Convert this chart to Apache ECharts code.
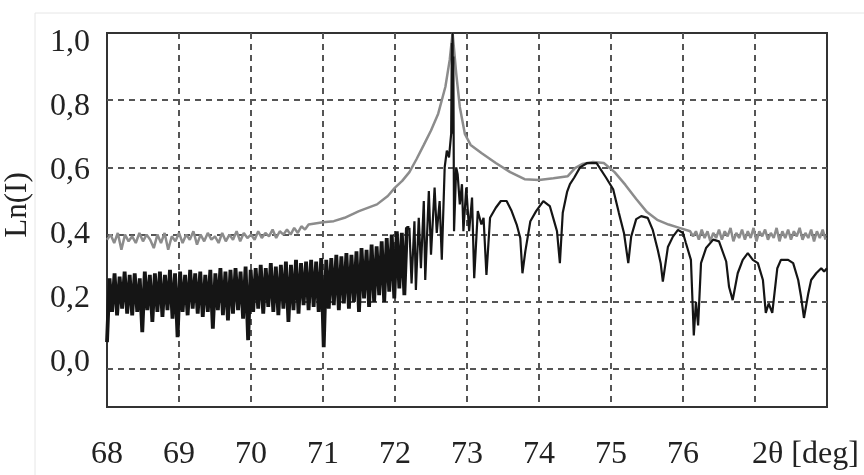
<!DOCTYPE html>
<html>
<head>
<meta charset="utf-8">
<script src="https://cdn.jsdelivr.net/npm/echarts@6/dist/echarts.min.js"></script>
<style>
  html, body { margin: 0; padding: 0; background: #fff; }
  #chart { width: 864px; height: 475px; }
</style>
</head>
<body>
<div id="chart"></div>
<script>
// x tick labels (2θ, deg) and the axis caption
const xTicks = [68, 69, 70, 71, 72, 73, 74, 75, 76];
const xCaptionAt = 77.7;
const xCaption = '2θ [deg]';
const yTicks = [0, 0.2, 0.4, 0.6, 0.8, 1.0];

// grey curve: noisy start (step 0.05 from 68.0)
const grayLeftX0 = 68, grayLeftStep = 0.05;
const grayLeftNoise = [
  0.385, 0.40, 0.375, 0.405, 0.355, 0.40, 0.38, 0.395, 0.375, 0.405,
  0.38, 0.40, 0.385, 0.36, 0.40, 0.375, 0.405, 0.355, 0.395, 0.38,
  0.405, 0.375, 0.40, 0.385, 0.41, 0.37, 0.40, 0.38, 0.405, 0.385,
  0.395, 0.375, 0.405, 0.38, 0.40, 0.385, 0.41, 0.38, 0.405, 0.39,
  0.40, 0.385, 0.41, 0.39, 0.405, 0.395, 0.415, 0.39, 0.41, 0.40,
  0.415, 0.40, 0.42, 0.405, 0.425, 0.415
];
// grey curve: peak and broad hump
const grayMid = [
  [70.8, 0.43], [71.0, 0.437], [71.15, 0.44], [71.3, 0.45], [71.5, 0.47], [71.75, 0.49],
  [71.9, 0.515], [72.0, 0.54], [72.1, 0.56], [72.2, 0.586], [72.3, 0.625], [72.4, 0.667],
  [72.5, 0.71], [72.6, 0.76], [72.7, 0.84], [72.76, 0.92], [72.8, 1.0], [72.85, 0.88],
  [72.9, 0.78], [72.97, 0.70], [73.05, 0.667], [73.2, 0.643], [73.4, 0.613], [73.6, 0.586],
  [73.8, 0.565], [74.0, 0.5625], [74.2, 0.568], [74.4, 0.574], [74.5, 0.598], [74.6, 0.61],
  [74.75, 0.616], [74.9, 0.613], [75.05, 0.586], [75.2, 0.548], [75.35, 0.506], [75.5, 0.467],
  [75.65, 0.443], [75.8, 0.43], [75.95, 0.42], [76.1, 0.41]
];
// grey curve: noisy tail (step 0.04 from 76.14)
const grayRightX0 = 76.14, grayRightStep = 0.04;
const grayRightNoise = [
  0.395, 0.41, 0.385, 0.415, 0.39, 0.41, 0.38, 0.405, 0.39, 0.415,
  0.385, 0.41, 0.395, 0.42, 0.38, 0.405, 0.39, 0.415, 0.385, 0.41,
  0.39, 0.42, 0.38, 0.41, 0.395, 0.415, 0.385, 0.405, 0.39, 0.42,
  0.38, 0.41, 0.39, 0.415, 0.385, 0.41, 0.395, 0.42, 0.385, 0.405,
  0.39, 0.415, 0.38, 0.41, 0.39, 0.415, 0.385
];

// black curve: dense noisy band (step 0.035 from 68.0)
const blackX0 = 68, blackStep = 0.035;
const blackNoise = [
  0.08, 0.27, 0.17, 0.285, 0.16, 0.275, 0.18, 0.29, 0.165, 0.28,
  0.16, 0.285, 0.17, 0.27, 0.11, 0.29, 0.175, 0.28, 0.14, 0.285,
  0.17, 0.29, 0.155, 0.28, 0.175, 0.295, 0.15, 0.285, 0.095, 0.29,
  0.17, 0.28, 0.16, 0.295, 0.18, 0.285, 0.165, 0.29, 0.155, 0.28,
  0.17, 0.295, 0.12, 0.285, 0.175, 0.30, 0.16, 0.29, 0.145, 0.295,
  0.165, 0.30, 0.175, 0.29, 0.15, 0.305, 0.086, 0.295, 0.17, 0.30,
  0.18, 0.31, 0.165, 0.30, 0.185, 0.315, 0.17, 0.305, 0.16, 0.31,
  0.18, 0.32, 0.14, 0.31, 0.175, 0.325, 0.165, 0.315, 0.19, 0.32,
  0.175, 0.325, 0.185, 0.32, 0.17, 0.33, 0.065, 0.325, 0.18, 0.33,
  0.19, 0.34, 0.175, 0.335, 0.195, 0.345, 0.18, 0.34, 0.20, 0.35,
  0.17, 0.36, 0.21, 0.355, 0.185, 0.37, 0.20, 0.365, 0.22, 0.38,
  0.20, 0.39, 0.23, 0.40, 0.21, 0.41, 0.24, 0.405, 0.22, 0.42
];
// black curve: spikes and thickness fringes
const blackFringe = [
  [72.2, 0.42], [72.23, 0.255], [72.27, 0.44], [72.29, 0.235], [72.33, 0.45], [72.36, 0.30],
  [72.4, 0.50], [72.42, 0.265], [72.47, 0.53], [72.5, 0.34], [72.55, 0.54], [72.58, 0.405],
  [72.62, 0.50], [72.65, 0.325], [72.69, 0.60], [72.72, 0.65], [72.75, 0.63], [72.78, 0.70],
  [72.79, 0.97], [72.795, 0.74], [72.8, 1.0], [72.805, 0.70], [72.81, 0.93], [72.82, 0.41],
  [72.85, 0.60], [72.87, 0.58], [72.9, 0.49],
  [72.93, 0.55], [72.95, 0.41], [72.99, 0.54], [73.03, 0.41], [73.07, 0.51], [73.1, 0.27],
  [73.15, 0.47], [73.2, 0.43], [73.23, 0.45], [73.27, 0.28], [73.32, 0.45], [73.4, 0.48],
  [73.47, 0.50], [73.55, 0.50], [73.62, 0.47], [73.69, 0.43], [73.74, 0.39], [73.77, 0.285],
  [73.81, 0.35], [73.88, 0.44], [73.96, 0.47], [74.06, 0.50], [74.15, 0.485], [74.21, 0.44],
  [74.25, 0.41], [74.29, 0.315], [74.33, 0.465], [74.39, 0.527], [74.43, 0.55], [74.49, 0.57],
  [74.57, 0.60], [74.67, 0.613], [74.8, 0.613], [74.93, 0.57], [75.03, 0.535], [75.11, 0.464],
  [75.18, 0.405], [75.24, 0.315], [75.28, 0.394], [75.35, 0.446], [75.42, 0.455], [75.51, 0.45],
  [75.58, 0.414], [75.65, 0.354], [75.69, 0.315], [75.72, 0.26], [75.79, 0.363], [75.86, 0.394],
  [75.93, 0.414], [76.0, 0.405], [76.04, 0.375], [76.11, 0.325], [76.15, 0.10], [76.18, 0.20],
  [76.21, 0.13], [76.25, 0.315], [76.32, 0.36], [76.42, 0.385], [76.5, 0.38], [76.6, 0.32],
  [76.64, 0.244], [76.69, 0.205], [76.76, 0.285], [76.83, 0.325], [76.9, 0.345], [76.97, 0.325],
  [77.04, 0.315], [77.11, 0.265], [77.15, 0.167], [77.19, 0.195], [77.24, 0.167], [77.31, 0.30],
  [77.36, 0.325], [77.46, 0.325], [77.53, 0.315], [77.6, 0.265], [77.64, 0.215], [77.68, 0.152],
  [77.74, 0.225], [77.78, 0.265], [77.85, 0.285], [77.92, 0.30], [77.96, 0.29], [78.0, 0.30]
];

function sampled(x0, dx, ys) {
  return ys.map((y, i) => [+(x0 + i * dx).toFixed(4), y]);
}
const grayData = sampled(grayLeftX0, grayLeftStep, grayLeftNoise)
  .concat(grayMid, sampled(grayRightX0, grayRightStep, grayRightNoise));
const blackBand = sampled(blackX0, blackStep, blackNoise).concat([blackFringe[0]]);

const serif = "'Liberation Serif', 'DejaVu Serif', serif";
const comma = v => v.toFixed(1).replace('.', ',');
const gridDash = { type: [6, 5], color: '#555', width: 2 };

const chart = echarts.init(document.getElementById('chart'));
chart.setOption({
  animation: false,
  backgroundColor: '#fff',
  grid: [
    { left: 107, top: 33, right: 37, bottom: 68, outerBoundsMode: 'none', show: true,
      borderColor: '#333', borderWidth: 2, backgroundColor: '#fff' },
    { left: 35, top: 13, right: -10, bottom: -10, outerBoundsMode: 'none', show: true,
      borderColor: '#e6e6e6', borderWidth: 1, backgroundColor: 'transparent' }
  ],
  xAxis: [
    {
      gridIndex: 0, type: 'value', min: 68, max: 78, interval: 1,
      axisLine: { show: false }, axisTick: { show: false },
      splitLine: { show: true, showMinLine: false, showMaxLine: false, lineStyle: gridDash },
      axisLabel: {
        customValues: xTicks.concat([xCaptionAt]),
        formatter: v => (v === xCaptionAt ? xCaption : String(v)),
        margin: 32, fontSize: 32, fontFamily: serif, color: '#222'
      }
    },
    { gridIndex: 1, type: 'value', show: false }
  ],
  yAxis: [
    {
      gridIndex: 0, type: 'value', position: 'left', min: -0.113, max: 1.0, splitNumber: 5,
      axisLine: { show: false }, axisTick: { show: false }, axisLabel: { show: false },
      splitLine: { show: true, showMinLine: false, showMaxLine: false, lineStyle: gridDash }
    },
    {
      gridIndex: 0, type: 'value', position: 'left', offset: 0, min: -0.1375, max: 1.03125,
      axisLine: { show: false }, axisTick: { show: false }, splitLine: { show: false },
      axisLabel: {
        customValues: yTicks, formatter: comma,
        margin: 17, fontSize: 32, fontFamily: serif, color: '#222'
      },
      name: 'Ln(I)', nameLocation: 'middle', nameRotate: 90, nameGap: 74,
      nameTextStyle: { fontSize: 31, fontFamily: serif, color: '#222', padding: [0, 0, 0, 30] }
    },
    { gridIndex: 1, type: 'value', show: false }
  ],
  series: [
    {
      name: 'gray', type: 'line', xAxisIndex: 0, yAxisIndex: 0, data: grayData,
      showSymbol: false, silent: true, z: 2,
      lineStyle: { color: '#8c8c8c', width: 2.5 }
    },
    {
      name: 'black band', type: 'line', xAxisIndex: 0, yAxisIndex: 0, data: blackBand,
      showSymbol: false, silent: true, z: 3,
      lineStyle: { color: '#151515', width: 3.8 }
    },
    {
      name: 'black', type: 'line', xAxisIndex: 0, yAxisIndex: 0, data: blackFringe,
      showSymbol: false, silent: true, z: 3,
      lineStyle: { color: '#151515', width: 2.2 }
    }
  ]
});
</script>
</body>
</html>
